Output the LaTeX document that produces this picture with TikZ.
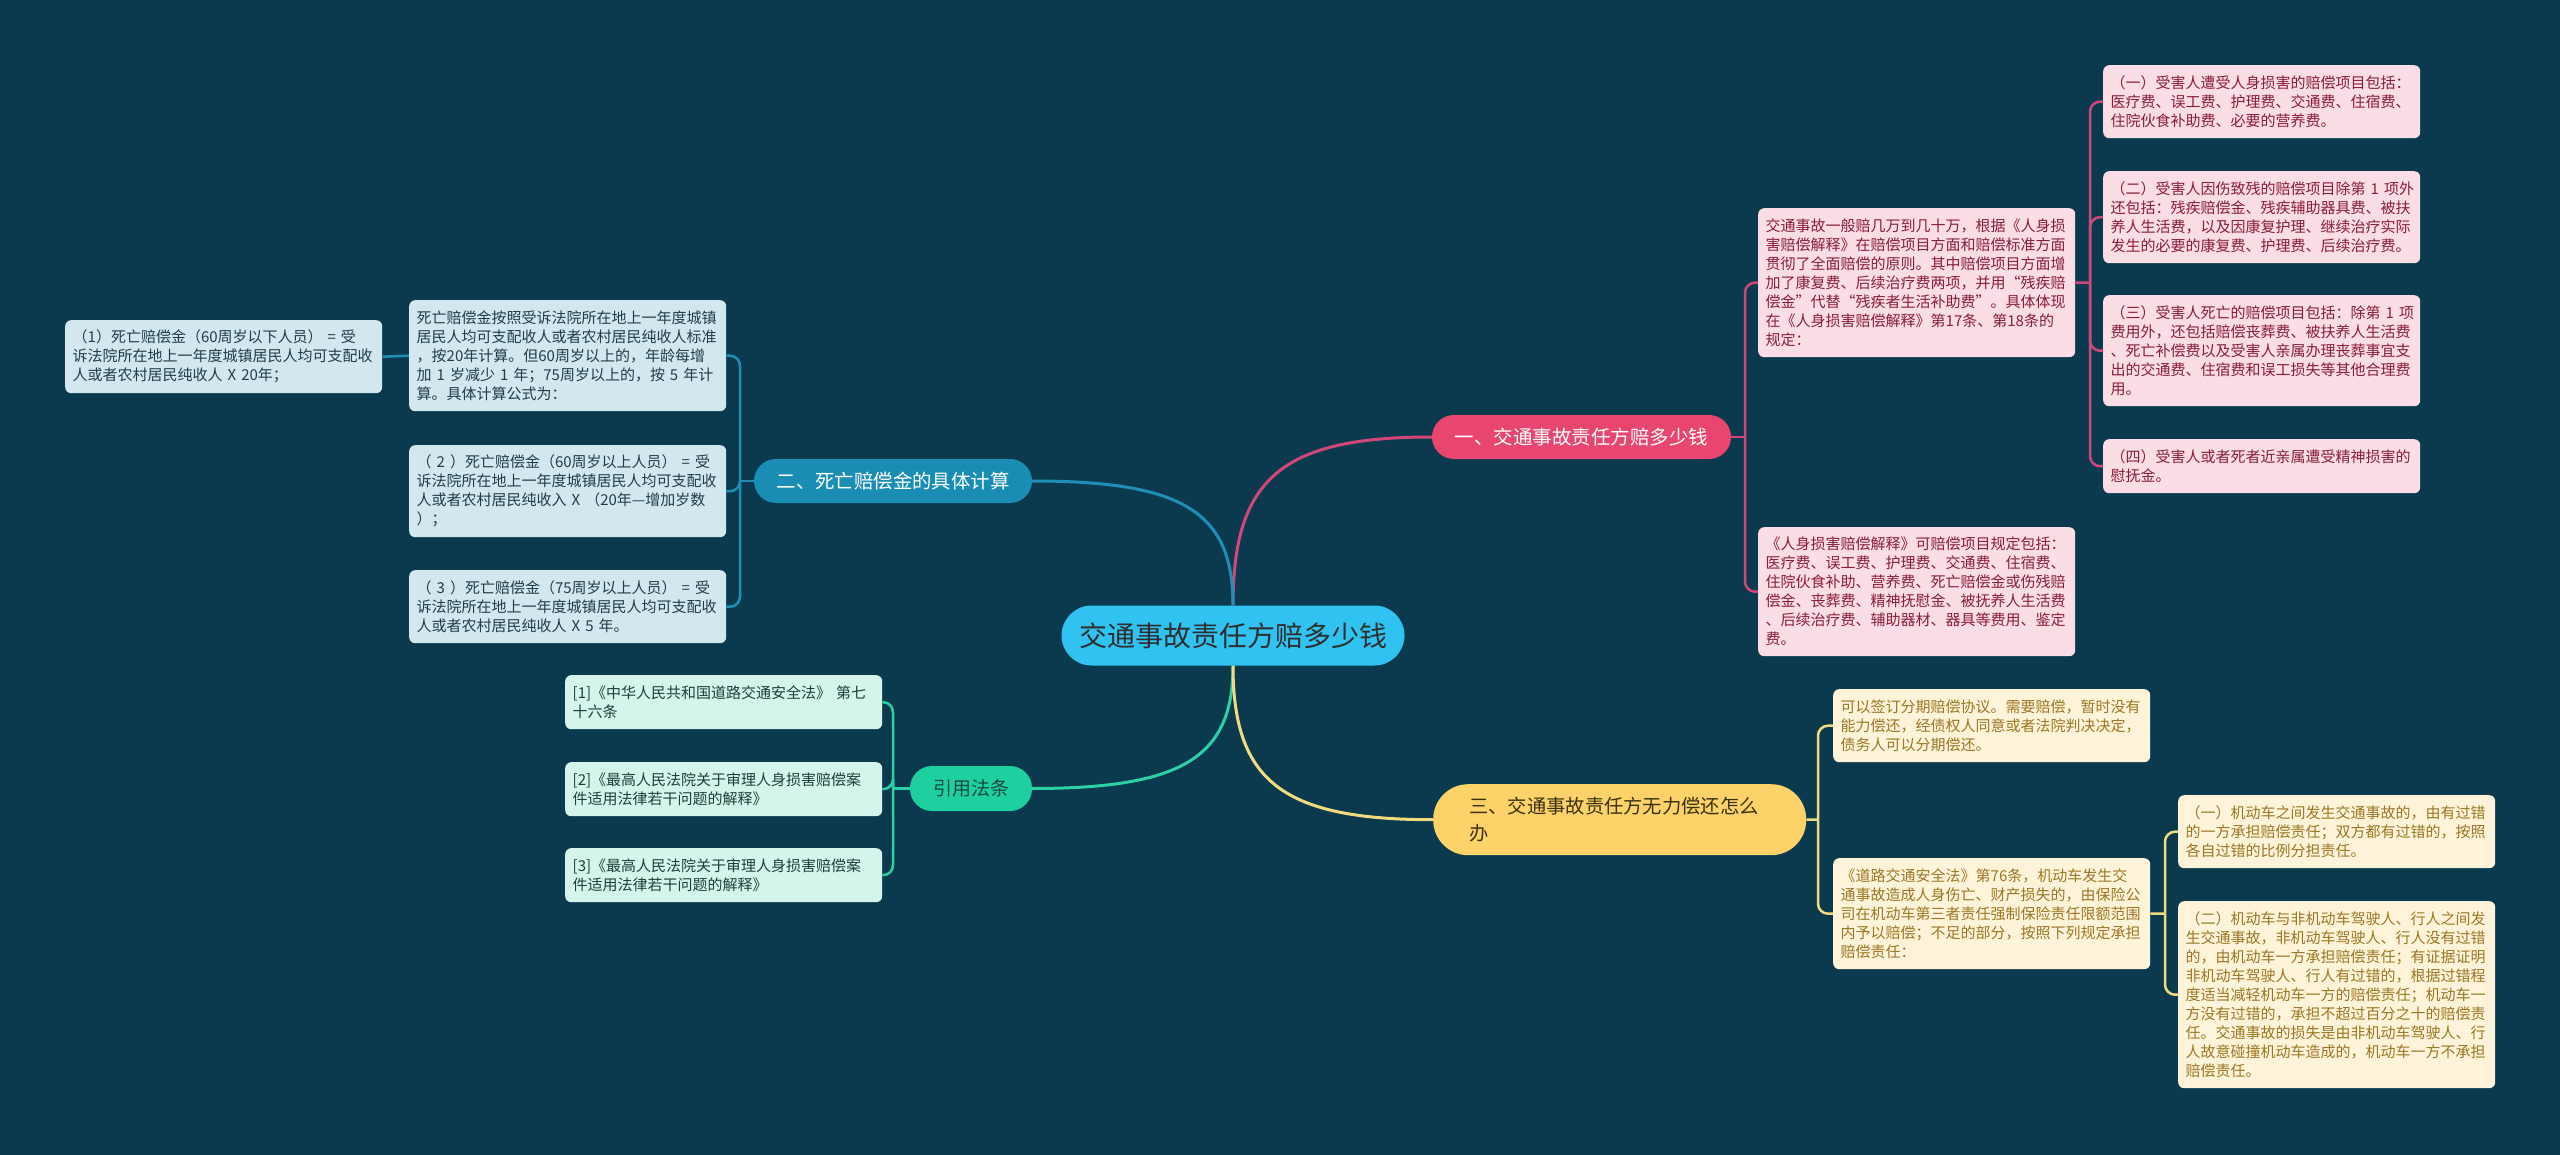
\documentclass[tikz,border=0pt]{standalone}
\usepackage{fontspec}
\newfontfamily\cjk{Noto Sans CJK SC}
\definecolor{bg}{HTML}{0B3A4E}
\definecolor{cfill}{HTML}{30C2F0}
\definecolor{ctext}{HTML}{2E2E2E}
\definecolor{pkbr}{HTML}{E8456F}
\definecolor{pkline}{HTML}{D2477A}
\definecolor{pkfill}{HTML}{FADDE5}
\definecolor{pktext}{HTML}{8A1C3C}
\definecolor{blbr}{HTML}{1A8DB5}
\definecolor{blline}{HTML}{1F8FB8}
\definecolor{blfill}{HTML}{D3E7EF}
\definecolor{bltext}{HTML}{1F3D4C}
\definecolor{gnbr}{HTML}{1ECFA0}
\definecolor{gnline}{HTML}{2BD0A5}
\definecolor{gnfill}{HTML}{D5F4EB}
\definecolor{gntext}{HTML}{1E3F38}
\definecolor{gnbrtext}{HTML}{1B4A3E}
\definecolor{ywbr}{HTML}{FDD268}
\definecolor{ywline}{HTML}{F2DB7E}
\definecolor{ywfill}{HTML}{FFF4DA}
\definecolor{ywtext}{HTML}{9C7622}
\definecolor{ywbrtext}{HTML}{3B3110}
\tikzset{
  leaf/.style={anchor=north west, rounded corners=6pt, text width=302pt, inner xsep=7.5pt, inner ysep=0pt, align=left, font=\cjk\fontsize{15}{19}\selectfont},
  pkleaf/.style={leaf, fill=pkfill, text=pktext},
  blleaf/.style={leaf, fill=blfill, text=bltext},
  gnleaf/.style={leaf, fill=gnfill, text=gntext},
  ywleaf/.style={leaf, fill=ywfill, text=ywtext},
  mainline/.style={line width=3pt},
  brk/.style={line width=2.5pt, rounded corners=10pt},
}
\begin{document}
\begin{tikzpicture}[x=1pt,y=-1pt]
\fill[bg] (0,0) rectangle (2560,1155);
\useasboundingbox (0,0) rectangle (2560,1155);

% central and main branches
\node[fill=cfill, text=ctext, rounded corners=30pt, minimum width=343pt, minimum height=60pt, inner sep=0pt, font=\cjk\fontsize{28}{32}\selectfont] (c) at (1233,635.5) {交通事故责任方赔多少钱};
\node[fill=pkbr, text=white, rounded corners=22pt, minimum width=299pt, minimum height=44pt, inner sep=0pt, font=\cjk\fontsize{19.5}{24}\selectfont] (b1) at (1581.5,437) {一、交通事故责任方赔多少钱};
\node[fill=blbr, text=white, rounded corners=22pt, minimum width=278pt, minimum height=44pt, inner sep=0pt, font=\cjk\fontsize{19.4}{24}\selectfont] (b2) at (893,481) {二、死亡赔偿金的具体计算};
\node[fill=gnbr, text=gnbrtext, rounded corners=22pt, minimum width=122pt, minimum height=45pt, inner sep=0pt, font=\cjk\fontsize{19}{24}\selectfont] (b3) at (971,788.5) {引用法条};
\node[anchor=north west, fill=ywbr, text=ywbrtext, rounded corners=35pt, text width=301pt, inner xsep=36pt, inner ysep=0pt, minimum height=71pt, align=left, font=\cjk\fontsize{19.3}{27}\selectfont] (b4) at (1433,784) {三、交通事故责任方无力偿还怎么\\办};

\draw[mainline, pkline] (c.north) .. controls +(0,-127) and +(-150,0) .. (b1.west);
\draw[mainline, blline] (c.north) .. controls +(0,-94) and +(150,0) .. (b2.east);
\draw[mainline, gnline] (c.south) .. controls +(0,92) and +(150,0) .. (b3.east);
\draw[mainline, ywline] (c.south) .. controls +(0,116) and +(-150,0) .. (b4.west);

% pink leaves
\node[pkleaf, minimum height=149pt] (pA) at (1758,208) {交通事故一般赔几万到几十万，根据《人身损\\害赔偿解释》在赔偿项目方面和赔偿标准方面\\贯彻了全面赔偿的原则。其中赔偿项目方面增\\加了康复费、后续治疗费两项，并用“残疾赔\\偿金”代替“残疾者生活补助费”。具体体现\\在《人身损害赔偿解释》第17条、第18条的\\规定：};
\node[pkleaf, minimum height=129pt] (pB) at (1758,527) {《人身损害赔偿解释》可赔偿项目规定包括：\\医疗费、误工费、护理费、交通费、住宿费、\\住院伙食补助、营养费、死亡赔偿金或伤残赔\\偿金、丧葬费、精神抚慰金、被抚养人生活费\\、后续治疗费、辅助器材、器具等费用、鉴定\\费。};
\node[pkleaf, minimum height=73pt] (p1) at (2103,65) {（一）受害人遭受人身损害的赔偿项目包括：\\医疗费、误工费、护理费、交通费、住宿费、\\住院伙食补助费、必要的营养费。};
\node[pkleaf, minimum height=92pt] (p2) at (2103,171) {（二）受害人因伤致残的赔偿项目除第~1~项外\\还包括：残疾赔偿金、残疾辅助器具费、被扶\\养人生活费，以及因康复护理、继续治疗实际\\发生的必要的康复费、护理费、后续治疗费。};
\node[pkleaf, minimum height=111pt] (p3) at (2103,295) {（三）受害人死亡的赔偿项目包括：除第~1~项\\费用外，还包括赔偿丧葬费、被扶养人生活费\\、死亡补偿费以及受害人亲属办理丧葬事宜支\\出的交通费、住宿费和误工损失等其他合理费\\用。};
\node[pkleaf, minimum height=54pt] (p4) at (2103,439) {（四）受害人或者死者近亲属遭受精神损害的\\慰抚金。};

\coordinate (pkj1) at (1745,437);
\draw[brk, pkline] (b1.east) -- (pkj1);
\draw[brk, pkline] (pkj1) |- (pA.west);
\draw[brk, pkline] (pkj1) |- (pB.west);
\coordinate (pkj2) at (2090,282.5);
\draw[brk, pkline] (pA.east) -- (pkj2);
\draw[brk, pkline] (pkj2) |- (p1.west);
\draw[brk, pkline] (pkj2) |- (p2.west);
\draw[brk, pkline] (pkj2) |- (p3.west);
\draw[brk, pkline] (pkj2) |- (p4.west);

% blue leaves
\node[blleaf, minimum height=73pt] (L0) at (65,320) {（1）死亡赔偿金（60周岁以下人员）~=~受\\诉法院所在地上一年度城镇居民人均可支配收\\人或者农村居民纯收人~X~20年；};
\node[blleaf, minimum height=111pt] (L1) at (409,300) {死亡赔偿金按照受诉法院所在地上一年度城镇\\居民人均可支配收人或者农村居民纯收人标准\\，按20年计算。但60周岁以上的，年龄每增\\加~1~岁减少~1~年；75周岁以上的，按~5~年计\\算。具体计算公式为：};
\node[blleaf, minimum height=92pt] (L2) at (409,445) {（~2~）死亡赔偿金（60周岁以上人员）~=~受\\诉法院所在地上一年度城镇居民人均可支配收\\人或者农村居民纯收入~X~（20年—增加岁数\\）；};
\node[blleaf, minimum height=73pt] (L3) at (409,570) {（~3~）死亡赔偿金（75周岁以上人员）~=~受\\诉法院所在地上一年度城镇居民人均可支配收\\人或者农村居民纯收人~X~5~年。};

\coordinate (blj) at (740,481);
\draw[brk, blline] (b2.west) -- (blj);
\draw[brk, blline] (blj) |- (L1.east);
\draw[brk, blline] (blj) |- (L2.east);
\draw[brk, blline] (blj) |- (L3.east);
\draw[brk, blline] (L1.west) -- (L0.east);

% green leaves
\node[gnleaf, minimum height=54pt] (G1) at (565,675) {[1]《中华人民共和国道路交通安全法》~第七\\十六条};
\node[gnleaf, minimum height=54pt] (G2) at (565,762) {[2]《最高人民法院关于审理人身损害赔偿案\\件适用法律若干问题的解释》};
\node[gnleaf, minimum height=54pt] (G3) at (565,848) {[3]《最高人民法院关于审理人身损害赔偿案\\件适用法律若干问题的解释》};

\coordinate (gnj) at (893,788.5);
\draw[brk, gnline] (b3.west) -- (gnj);
\draw[brk, gnline] (gnj) |- (G1.east);
\draw[brk, gnline] (gnj) |- (G2.east);
\draw[brk, gnline] (gnj) |- (G3.east);

% yellow leaves
\node[ywleaf, minimum height=73pt] (Y1) at (1833,689) {可以签订分期赔偿协议。需要赔偿，暂时没有\\能力偿还，经债权人同意或者法院判决决定，\\债务人可以分期偿还。};
\node[ywleaf, minimum height=111pt] (Y2) at (1833,858) {《道路交通安全法》第76条，机动车发生交\\通事故造成人身伤亡、财产损失的，由保险公\\司在机动车第三者责任强制保险责任限额范围\\内予以赔偿；不足的部分，按照下列规定承担\\赔偿责任：};
\node[ywleaf, minimum height=73pt] (Y3) at (2178,795) {（一）机动车之间发生交通事故的，由有过错\\的一方承担赔偿责任；双方都有过错的，按照\\各自过错的比例分担责任。};
\node[ywleaf, minimum height=187pt] (Y4) at (2178,901) {（二）机动车与非机动车驾驶人、行人之间发\\生交通事故，非机动车驾驶人、行人没有过错\\的，由机动车一方承担赔偿责任；有证据证明\\非机动车驾驶人、行人有过错的，根据过错程\\度适当减轻机动车一方的赔偿责任；机动车一\\方没有过错的，承担不超过百分之十的赔偿责\\任。交通事故的损失是由非机动车驾驶人、行\\人故意碰撞机动车造成的，机动车一方不承担\\赔偿责任。};

\coordinate (ywj1) at (1818,819.5);
\draw[brk, ywline] (b4.east) -- (ywj1);
\draw[brk, ywline] (ywj1) |- (Y1.west);
\draw[brk, ywline] (ywj1) |- (Y2.west);
\coordinate (ywj2) at (2165,913.5);
\draw[brk, ywline] (Y2.east) -- (ywj2);
\draw[brk, ywline] (ywj2) |- (Y3.west);
\draw[brk, ywline] (ywj2) |- (Y4.west);
\end{tikzpicture}
\end{document}
